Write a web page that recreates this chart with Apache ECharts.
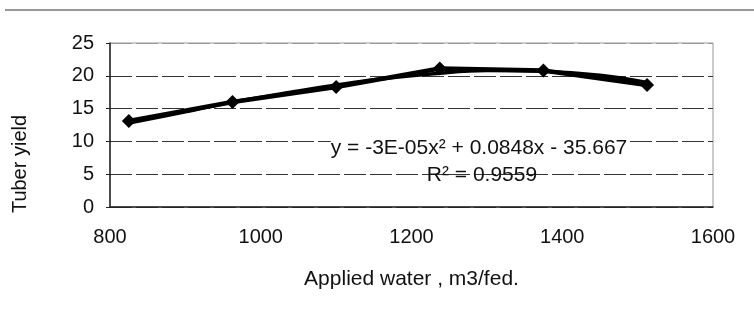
<!DOCTYPE html>
<html>
<head>
<meta charset="utf-8">
<script src="https://cdn.jsdelivr.net/npm/echarts@6/dist/echarts.min.js"></script>
<style>
  html, body {margin: 0; padding: 0; background: #fff;}
  #tuberChart {width: 754px; height: 320px;}
</style>
</head>
<body>
<div id="tuberChart"></div>
<script>
// applied water (m3/fed.) and measured tuber yield
var waterLevels = [825, 962.5, 1100, 1237.5, 1375, 1512.5];
var tuberYield = [13.1, 16.0, 18.3, 21.1, 20.8, 18.6];

// polynomial trend line
var trendWater = [825, 900, 962.5, 1050, 1100, 1150, 1237.5, 1300, 1375, 1450, 1512.5];
var trendYield = [12.8, 14.5, 16.0, 17.7, 18.6, 19.4, 20.4, 20.8, 20.7, 20.1, 19.0];

var xTicks = [800, 1000, 1200, 1400, 1600];
var yTicks = [0, 5, 10, 15, 20, 25];

var equationText = 'y = -3E-05x² + 0.0848x - 35.667';
var rSquaredText = 'R² = 0.9559';

var font = 'Liberation Sans, Arial, sans-serif';

var chart = echarts.init(document.getElementById('tuberChart'));

var option = {
  backgroundColor: '#fff',
  animation: false,
  grid: {left: 110, right: 41, top: 43, bottom: 113, show: true, borderColor: '#999', borderWidth: 1},
  xAxis: {
    type: 'value',
    min: xTicks[0],
    max: xTicks[xTicks.length - 1],
    interval: 200,
    name: 'Applied water , m3/fed.',
    nameLocation: 'middle',
    nameGap: 62,
    nameTextStyle: {color: '#111', fontSize: 21, fontFamily: font},
    axisLine: {show: true, lineStyle: {color: '#222', width: 1.5}},
    axisTick: {show: false},
    axisLabel: {color: '#111', fontSize: 20, fontFamily: font, margin: 20, formatter: function (v) { return String(v); }},
    splitLine: {show: false}
  },
  yAxis: {
    type: 'value',
    min: yTicks[0],
    max: yTicks[yTicks.length - 1],
    interval: 5,
    axisLine: {show: true, lineStyle: {color: '#222', width: 1.5}},
    axisTick: {show: true, length: 4, lineStyle: {color: '#222'}},
    axisLabel: {color: '#111', fontSize: 20, fontFamily: font, margin: 16},
    splitLine: {show: true, lineStyle: {color: ['#333', '#333', '#333', '#333', '#333', '#999'], width: 1, type: [22, 4]}}
  },
  graphic: [
    {type: 'line', shape: {x1: 5, y1: 10, x2: 754, y2: 10}, style: {stroke: '#333', lineWidth: 1.2}},
    {
      type: 'text', x: 20, y: 164, rotation: Math.PI / 2,
      style: {text: 'Tuber yield', fill: '#111', font: '20px ' + font, textAlign: 'center', textVerticalAlign: 'middle'}
    },
    {
      type: 'text', x: 479, y: 148, z: 10,
      style: {text: equationText, fill: '#111', font: '21px ' + font, textAlign: 'center', textVerticalAlign: 'middle', backgroundColor: '#fff'}
    },
    {
      type: 'text', x: 482, y: 175, z: 10,
      style: {text: rSquaredText, fill: '#111', font: '21px ' + font, textAlign: 'center', textVerticalAlign: 'middle'}
    }
  ],
  series: [
    {
      name: 'Trend',
      type: 'line',
      smooth: 0.4,
      symbol: 'none',
      lineStyle: {color: '#000', width: 3.5},
      data: trendWater.map(function (w, i) { return [w, trendYield[i]]; })
    },
    {
      name: 'Tuber yield',
      type: 'line',
      symbol: 'diamond',
      symbolSize: 14,
      itemStyle: {color: '#000'},
      lineStyle: {color: '#000', width: 4.5},
      data: waterLevels.map(function (w, i) { return [w, tuberYield[i]]; })
    }
  ]
};

chart.setOption(option);
</script>
</body>
</html>
